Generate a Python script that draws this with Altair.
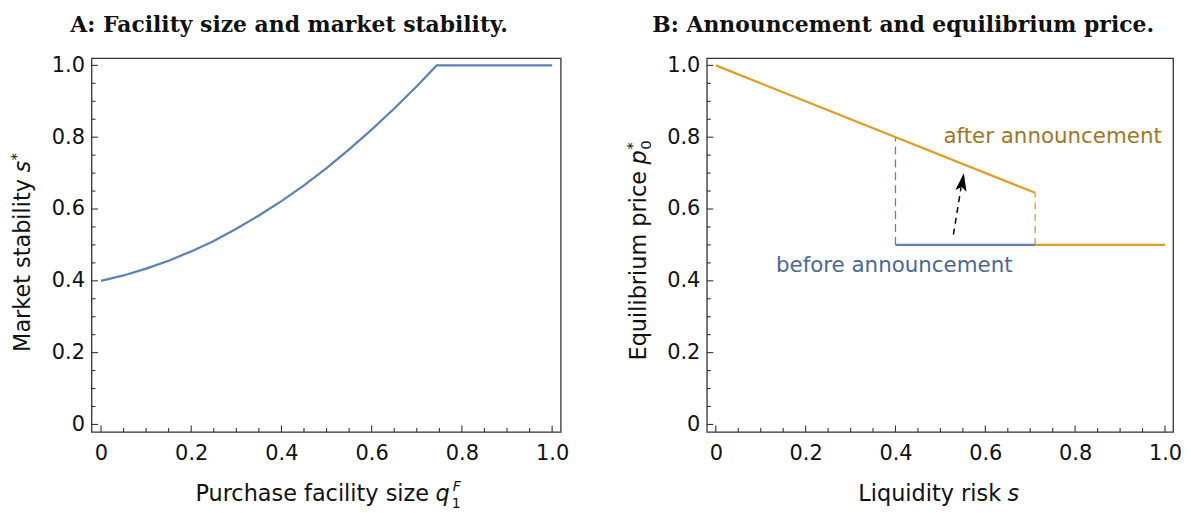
import altair as alt
import pandas as pd

# ---------------- data ----------------
# Panel A: purchase facility size vs market stability
qA = [0.0, 0.05, 0.10, 0.15, 0.20, 0.25, 0.30, 0.35, 0.40, 0.45, 0.50,
      0.55, 0.60, 0.65, 0.70, 0.744, 1.0]
sA = [0.400, 0.415, 0.434, 0.456, 0.482, 0.511, 0.545, 0.582, 0.622, 0.666,
      0.714, 0.766, 0.821, 0.880, 0.942, 1.0, 1.0]

# Panel B: liquidity risk vs equilibrium price
after_s = [0.0, 0.711]
after_p = [1.0, 0.645]
after_flat_s = [0.711, 1.0]
after_flat_p = [0.5, 0.5]
after_dash_s = [0.711, 0.711]
after_dash_p = [0.5, 0.645]
before_s = [0.4, 0.711]
before_p = [0.5, 0.5]
before_dash_s = [0.4, 0.4]
before_dash_p = [0.5, 0.8]
arrow_s = [0.529, 0.546]
arrow_p = [0.529, 0.660]
arrow_head_s = [0.549]
arrow_head_p = [0.675]

label_after = ["after announcement"]
label_after_pos = ([0.993], [0.80])
label_before = ["before announcement"]
label_before_pos = ([0.134], [0.441])

major_ticks = [0.0, 0.2, 0.4, 0.6, 0.8, 1.0]
minor_ticks = [0.05, 0.10, 0.15, 0.25, 0.30, 0.35, 0.45, 0.50, 0.55,
               0.65, 0.70, 0.75, 0.85, 0.90, 0.95]

title_A = "A: Facility size and market stability."
title_B = "B: Announcement and equilibrium price."

# ---------------- style ----------------
BLUE = "#5E81B5"
ORANGE = "#E19C24"
FRAME = "#333333"
WA, WB, H = 472, 469, 376
FONT = "DejaVu Sans"
LBL = 21
TT = 22.5
GAP = 6.5  # word space before the italic symbol

ysc = alt.Scale(domain=[-0.021, 1.02], nice=False, zero=False)
xscA = alt.Scale(domain=[-0.021, 1.019], nice=False, zero=False)
xscB = alt.Scale(domain=[-0.020, 1.018], nice=False, zero=False)
lab_expr = "datum.value == 0 ? '0' : format(datum.value, '.1f')"

xaxis = alt.Axis(values=major_ticks, labelExpr=lab_expr, ticks=False, tickSize=0,
                 domain=False, grid=False, labelFont=FONT, labelFontSize=LBL,
                 labelColor="#111111", labelPadding=11, labelFlush=False, title=None)
yaxis = alt.Axis(values=major_ticks, labelExpr=lab_expr, ticks=False, tickSize=0,
                 domain=False, grid=False, labelFont=FONT, labelFontSize=LBL,
                 labelColor="#111111", labelPadding=7, labelFlush=False, title=None)


def ticks(xsc):
    out = []
    for vals, ln in ((major_ticks, 6.5), (minor_ticks, 4)):
        d = pd.DataFrame({"v": vals})
        out.append(alt.Chart(d).mark_rule(color=FRAME, strokeWidth=1.1).encode(
            x=alt.X("v:Q", scale=xsc, axis=xaxis),
            y=alt.value(H), y2=alt.value(H - ln)))
        out.append(alt.Chart(d).mark_rule(color=FRAME, strokeWidth=1.1).encode(
            y=alt.Y("v:Q", scale=ysc, axis=yaxis),
            x=alt.value(0), x2=alt.value(ln)))
    return out


def txt(t, x, y, size=TT, italic=False, align="left", angle=0):
    kw = dict(font=FONT, fontSize=size, align=align, baseline="alphabetic",
              color="#111111")
    if italic:
        kw["fontStyle"] = "italic"
    if angle:
        kw["angle"] = angle
    return alt.Chart(pd.DataFrame({"t": [t]})).mark_text(**kw).encode(
        text="t:N", x=alt.value(x), y=alt.value(y))


def line(xs, ys, xsc, color, dash=None, width=2.2):
    d = pd.DataFrame({"x": xs, "y": ys, "o": list(range(len(xs)))})
    kw = dict(color=color, strokeWidth=width)
    if dash:
        kw["strokeDash"] = dash
    return alt.Chart(d).mark_line(**kw).encode(
        x=alt.X("x:Q", scale=xsc, axis=xaxis),
        y=alt.Y("y:Q", scale=ysc, axis=yaxis),
        order="o:Q")


title_kw = dict(font="DejaVu Serif", fontSize=22, fontWeight="bold", color="#111111",
                anchor="middle", frame="bounds", offset=18)

# ---------------- panel A ----------------
ay = 115    # start of the italic symbol along the rotated y title
ax = 346    # start of the italic symbol in the x title
panelA = alt.layer(
    line(qA, sA, xscA, BLUE),
    *ticks(xscA),
    # y title: Market stability s*
    txt("Market stability", -61.6, ay + GAP, align="right", angle=270),
    txt("s", -61.6, ay, italic=True, angle=270),
    txt("*", -70.6, ay - 12, size=15, angle=270),
    # x title: Purchase facility size q_1^F
    txt("Purchase facility size", ax - GAP, H + 69.5, align="right"),
    txt("q", ax, H + 69.5, italic=True),
    txt("F", ax + 17.5, H + 59.5, size=14, italic=True),
    txt("1", ax + 16.5, H + 76.5, size=14),
).properties(width=WA, height=H, title=alt.TitleParams(title_A, **title_kw))

# ---------------- panel B ----------------
lblA = pd.DataFrame({"t": label_after, "x": label_after_pos[0], "y": label_after_pos[1]})
lblB = pd.DataFrame({"t": label_before, "x": label_before_pos[0], "y": label_before_pos[1]})
head = pd.DataFrame({"x": arrow_head_s, "y": arrow_head_p})
ARROW = "M 0 -1 L 0.62 1 L 0 0.55 L -0.62 1 Z"

by = 107
bx = 302.5
panelB = alt.layer(
    line(before_dash_s, before_dash_p, xscB, BLUE, dash=[8, 5], width=1.3),
    line(after_dash_s, after_dash_p, xscB, ORANGE, dash=[7, 5], width=1.3),
    line(before_s, before_p, xscB, BLUE),
    line(after_flat_s, after_flat_p, xscB, ORANGE),
    line(after_s, after_p, xscB, ORANGE),
    line(arrow_s, arrow_p, xscB, "#000000", dash=[6, 5], width=1.5),
    alt.Chart(head).mark_point(shape=ARROW, filled=True, size=330, angle=9,
                               color="#000000", opacity=1, strokeWidth=0).encode(
        x=alt.X("x:Q", scale=xscB, axis=xaxis),
        y=alt.Y("y:Q", scale=ysc, axis=yaxis)),
    alt.Chart(lblA).mark_text(font=FONT, fontSize=21.5, align="right", baseline="middle",
                              color="#A07624").encode(
        x=alt.X("x:Q", scale=xscB, axis=xaxis),
        y=alt.Y("y:Q", scale=ysc, axis=yaxis), text="t:N"),
    alt.Chart(lblB).mark_text(font=FONT, fontSize=21.5, align="left", baseline="middle",
                              color="#4B6896").encode(
        x=alt.X("x:Q", scale=xscB, axis=xaxis),
        y=alt.Y("y:Q", scale=ysc, axis=yaxis), text="t:N"),
    *ticks(xscB),
    # y title: Equilibrium price p_0^*
    txt("Equilibrium price", -61.6, by + GAP, align="right", angle=270),
    txt("p", -61.6, by, italic=True, angle=270),
    txt("*", -70.6, by - 15, size=15, angle=270),
    txt("0", -56.6, by - 15, size=15, angle=270),
    # x title: Liquidity risk s
    txt("Liquidity risk", bx - GAP, H + 69.5, align="right"),
    txt("s", bx, H + 69.5, italic=True),
).properties(width=WB, height=H, title=alt.TitleParams(title_B, **title_kw))

chart = alt.hconcat(panelA, panelB, spacing=54).properties(
    padding={"left": 0, "top": 3, "right": 0, "bottom": 0}
).configure(background="white").configure_view(stroke=FRAME, strokeWidth=1.3)

chart.save("out.html", embed_options={"renderer": "svg", "actions": False})
